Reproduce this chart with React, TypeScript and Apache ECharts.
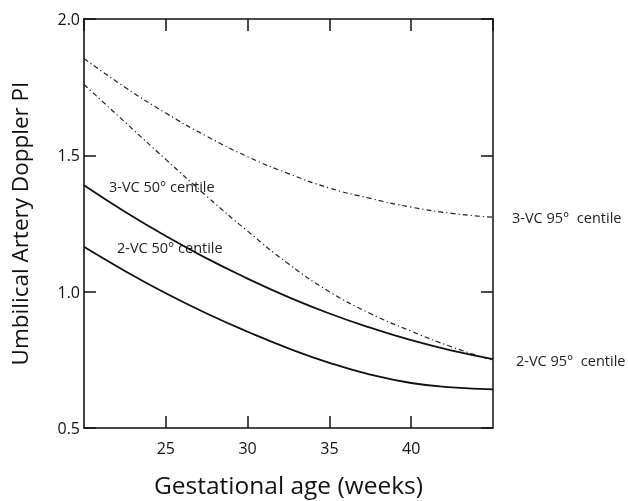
import React, { useEffect, useRef } from "react";
import * as echarts from "echarts";

const weeks = [20, 22.5, 25, 27.5, 30, 32.5, 35, 37.5, 40, 42.5, 45];
const vc3p95 = [1.855, 1.75, 1.655, 1.57, 1.495, 1.433, 1.38, 1.342, 1.31, 1.287, 1.273];
const vc2p95 = [1.76, 1.622, 1.485, 1.35, 1.222, 1.102, 1.0, 0.92, 0.855, 0.797, 0.748];
const vc3p50 = [1.39, 1.293, 1.204, 1.122, 1.048, 0.98, 0.92, 0.868, 0.822, 0.784, 0.753];
const vc2p50 = [1.165, 1.076, 0.994, 0.92, 0.853, 0.792, 0.739, 0.696, 0.665, 0.649, 0.642];

const seriesNames = ["3-VC 95°  centile", "2-VC 95°  centile", "3-VC 50° centile", "2-VC 50° centile"];
const xTitle = "Gestational age (weeks)";
const yTitle = "Umbilical Artery Doppler PI";

const FONT = "Open Sans";

export default function App() {
  const ref = useRef<HTMLDivElement>(null);
  useEffect(() => {
    if (!ref.current) return;
    const chart = echarts.init(ref.current, null, { renderer: "svg" });
    const pairs = (ys: number[]) => weeks.map((w, i) => [w, ys[i]]);
    const dashDot = { color: "#222", width: 1.2, type: [5, 3, 1.2, 3] as any };
    const solid = { color: "#111", width: 1.8, type: "solid" as const };
    const axisLine = { show: true, lineStyle: { color: "#111", width: 1.5 } };
    const ticks = { show: true, inside: true, length: 12, lineStyle: { color: "#111", width: 1.5 } };
    const lblStyle = { fill: "#222", fontSize: 14.5, fontFamily: FONT, verticalAlign: "middle" as const };
    chart.setOption({
      animation: false,
      textStyle: { fontFamily: FONT },
      grid: { left: 84, right: 135, top: 19, bottom: 73, containLabel: false, outerBoundsMode: "none" },
      xAxis: [
        {
          type: "value",
          min: 20,
          max: 45,
          interval: 5,
          position: "bottom",
          axisLine,
          axisTick: ticks,
          splitLine: { show: false },
          axisLabel: {
            showMinLabel: false,
            showMaxLabel: false,
            color: "#111",
            fontSize: 16,
            fontFamily: FONT,
            margin: 12,
          },
          name: xTitle,
          nameLocation: "middle",
          nameGap: 44,
          nameTextStyle: { color: "#111", fontSize: 24.5, fontFamily: FONT },
        },
        {
          type: "value",
          min: 20,
          max: 45,
          interval: 5,
          position: "top",
          axisLine,
          axisTick: ticks,
          splitLine: { show: false },
          axisLabel: { show: false },
        },
      ],
      yAxis: [
        {
          type: "value",
          min: 0.5,
          max: 2.0,
          interval: 0.5,
          position: "left",
          axisLine: { show: true, lineStyle: { color: "#444", width: 2 } },
          axisTick: ticks,
          splitLine: { show: false },
          axisLabel: {
            color: "#111",
            fontSize: 16,
            fontFamily: FONT,
            margin: 4,
            formatter: (v: number) => v.toFixed(1),
            padding: [6, 0, 0, 0],
          },
          name: yTitle,
          nameLocation: "middle",
          nameGap: 53,
          nameTextStyle: { color: "#111", fontSize: 22.5, fontFamily: FONT },
        },
        {
          type: "value",
          min: 0.5,
          max: 2.0,
          interval: 0.5,
          position: "right",
          axisLine,
          axisTick: ticks,
          splitLine: { show: false },
          axisLabel: { show: false },
        },
      ],
      series: [
        {
          name: seriesNames[0],
          type: "line",
          data: pairs(vc3p95),
          smooth: true,
          symbol: "none",
          lineStyle: dashDot,
          endLabel: {
            show: true,
            formatter: seriesNames[0],
            distance: 19,
            color: "#222",
            fontSize: 14.5,
            fontFamily: FONT,
          },
        },
        {
          name: seriesNames[1],
          type: "line",
          data: pairs(vc2p95),
          smooth: true,
          symbol: "none",
          lineStyle: dashDot,
          endLabel: {
            show: true,
            formatter: seriesNames[1],
            distance: 23,
            color: "#222",
            fontSize: 14.5,
            fontFamily: FONT,
          },
        },
        {
          name: seriesNames[2],
          type: "line",
          data: pairs(vc3p50),
          smooth: true,
          symbol: "none",
          lineStyle: solid,
        },
        {
          name: seriesNames[3],
          type: "line",
          data: pairs(vc2p50),
          smooth: true,
          symbol: "none",
          lineStyle: solid,
        },
      ],
      graphic: [
        { type: "text", x: 109, y: 186, style: { ...lblStyle, text: seriesNames[2] } },
        { type: "text", x: 117, y: 247, style: { ...lblStyle, text: seriesNames[3] } },
      ],
    });
    return () => chart.dispose();
  }, []);
  return <div ref={ref} style={{ position: "fixed", left: 0, top: 0, width: 628, height: 501 }} />;
}
